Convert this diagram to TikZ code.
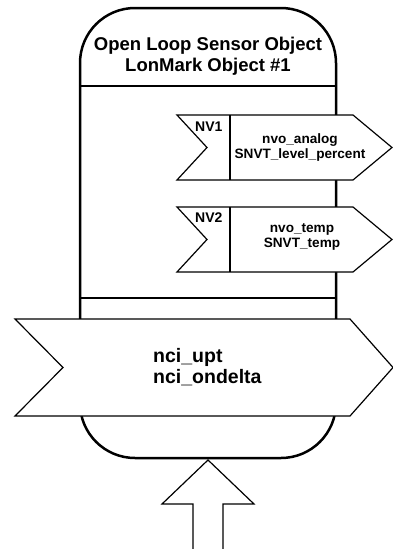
\documentclass[tikz,border=0pt]{standalone}
\usepackage{fontspec}
\setmainfont{Liberation Sans}
\begin{document}
\begin{tikzpicture}[x=1pt,y=-1pt,
	frame/.style={ draw, line width=2.5pt },
	nvbox/.style={ draw, fill=white, line width=1.2pt, line join=miter },
	headtext/.style={ font=\bfseries\fontsize{18.5}{21}\selectfont, align=center, inner sep=0pt },
	nvtext/.style={ font=\bfseries\fontsize{13.6}{15}\selectfont, align=center, inner sep=0pt },
	nvname/.style={ font=\bfseries\fontsize{14}{15}\selectfont, inner sep=0pt, anchor=base west },
	ncitext/.style={ font=\bfseries\fontsize{19.5}{21}\selectfont, align=left, inner sep=0pt, anchor=west }
]
\useasboundingbox (0,0) rectangle (393,549);

% object frame
\draw[frame, rounded corners=55pt] (80,8) rectangle (336,458);
\draw[frame] (80,86) -- (336,86);
\draw[frame] (80,298) -- (336,298);
\node[headtext] (head) at (208,56) {Open Loop Sensor Object\\LonMark Object \#1};

% output network variables
\draw[nvbox] (177,115) -- (353,115) -- (392,147.5) -- (353,180) -- (177,180) -- (207,147.5) -- cycle;
\draw[line width=1.2pt] (230,115) -- (230,180);
\node[nvname] (nv1) at (195,131) {NV1};
\node[nvtext] (nvo1) at (300,147) {nvo\_analog\\SNVT\_level\_percent};

\draw[nvbox] (177,207) -- (353,207) -- (392,239.5) -- (353,272) -- (177,272) -- (207,239.5) -- cycle;
\draw[line width=1.2pt] (230,207) -- (230,272);
\node[nvname] (nv2) at (195,222) {NV2};
\node[nvtext] (nvo2) at (302,237) {nvo\_temp\\SNVT\_temp};

% configuration properties
\draw[nvbox] (15,319) -- (350,319) -- (393,367.5) -- (350,416) -- (15,416) -- (63,367.5) -- cycle;
\node[ncitext] (nci) at (153,367.5) {nci\_upt\\nci\_ondelta};

% input arrow
\draw[line width=1.2pt] (193,549) -- (193,504) -- (162,504) -- (208,460) -- (254,504) -- (223,504) -- (223,549);

\end{tikzpicture}
\end{document}
